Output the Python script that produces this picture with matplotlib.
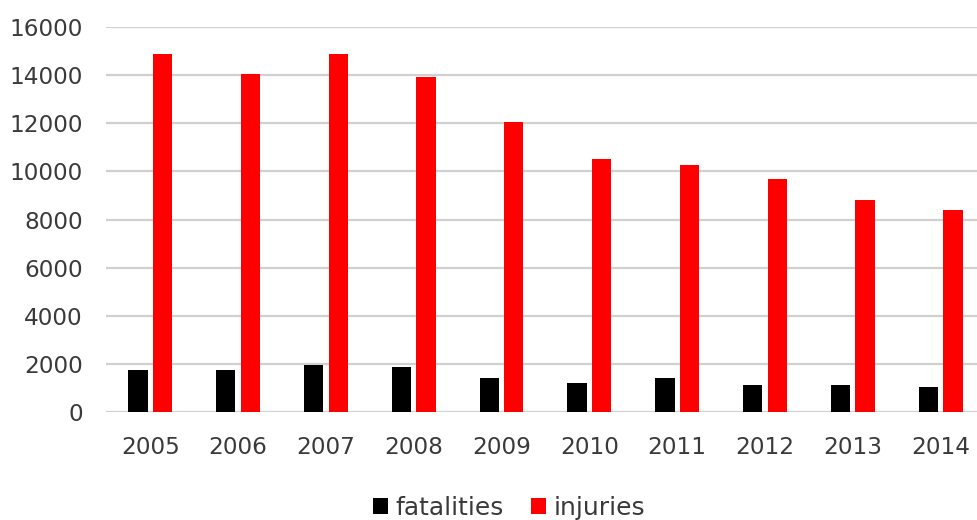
import numpy as np
import matplotlib.pyplot as plt

years = ['2005', '2006', '2007', '2008', '2009', '2010', '2011', '2012', '2013', '2014']
fatalities = [1750, 1750, 1975, 1890, 1410, 1210, 1410, 1145, 1145, 1060]
injuries = [14860, 14050, 14860, 13910, 12040, 10530, 10270, 9680, 8800, 8400]

x = np.arange(len(years))
w = 0.22

fig = plt.figure(figsize=(9.77, 5.2), dpi=100)
ax = fig.add_axes([0.1089, 0.207, 0.8911, 0.7415])

ax.bar(x - 0.14, fatalities, width=w, color='black', label='fatalities', zorder=3)
ax.bar(x + 0.14, injuries, width=w, color='#ff0000', label='injuries', zorder=3)

ax.set_ylim(0, 16000)
ax.set_xlim(-0.5, 9.415)
ax.set_yticks(range(0, 16001, 2000))
ax.set_xticks(x)
ax.set_xticklabels(years)
ax.yaxis.grid(True, color='#d0d0d0', linewidth=1.6, zorder=0)
ax.set_axisbelow(True)
for s in ax.spines.values():
    s.set_visible(False)
ax.tick_params(length=0, labelsize=16.7, colors='#3a3a3a')
ax.tick_params(axis='x', pad=17)
ax.tick_params(axis='y', pad=17)

fig.legend(loc='center', bbox_to_anchor=(0.521, 12 / 520), ncol=2, frameon=False,
           fontsize=18, handlelength=0.6, handleheight=0.6, handletextpad=0.28,
           columnspacing=1.1, labelcolor='#3a3a3a', borderpad=0)

plt.savefig('out.png', dpi=100)
